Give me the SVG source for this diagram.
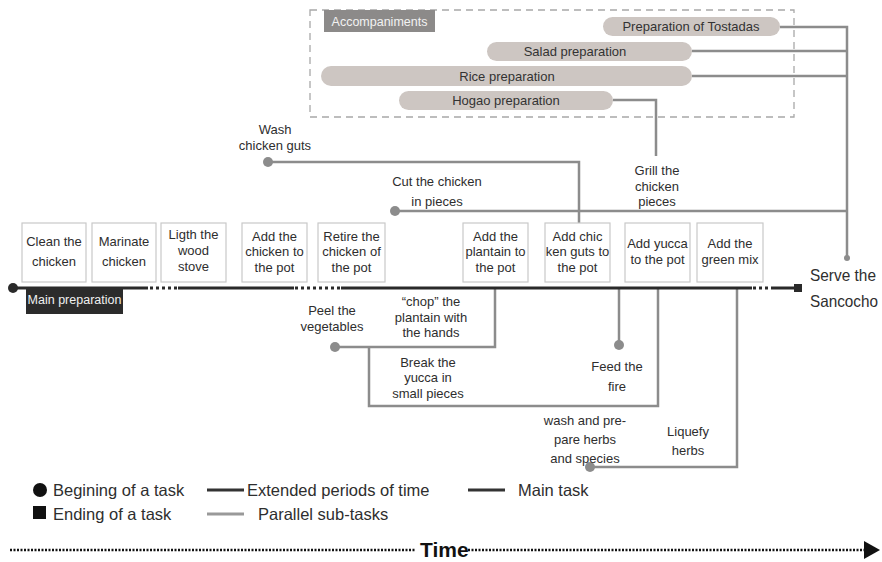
<svg xmlns="http://www.w3.org/2000/svg" width="882" height="562" viewBox="0 0 882 562">
<style>
text{font-family:"Liberation Sans Narrow","Liberation Sans",Arial,sans-serif;fill:#2e2e2e}
.bx{fill:#fff;stroke:#c9c9c9;stroke-width:1.2}
.bt{font-size:13px;text-anchor:middle}
.bar{fill:#cdc6c2}
.brt{font-size:13px;text-anchor:middle;fill:#333}
.sub{fill:none;stroke:#8c8c8c;stroke-width:2.5}
.lbl{font-size:13px;text-anchor:middle}
.dot{fill:#8c8c8c}
.main{fill:none;stroke:#2a2a2a;stroke-width:3}
.dots{fill:none;stroke:#2a2a2a;stroke-width:3;stroke-dasharray:3 3}
.leg{font-size:16.5px}
</style>
<rect width="882" height="562" fill="#fff"/>
<g id="accompaniments">
<rect x="310" y="10" width="484" height="107" fill="none" stroke="#a8a8a8" stroke-width="1.3" stroke-dasharray="7 5"/>
<rect x="324" y="10" width="111" height="22" fill="#8c8a89"/>
<text x="379.5" y="25.5" font-size="12.5" text-anchor="middle" style="fill:#f2f2f2">Accompaniments</text>
</g>
<g id="tostadas"><rect class="bar" x="603" y="17" width="177" height="19" rx="9.5"/><text class="brt" x="691" y="31">Preparation of Tostadas</text></g>
<g id="salad"><rect class="bar" x="487" y="42" width="205" height="19" rx="9.5"/><text class="brt" x="575" y="56">Salad preparation</text></g>
<g id="rice"><rect class="bar" x="321" y="66" width="371" height="20" rx="10"/><text class="brt" x="507" y="80.5">Rice preparation</text></g>
<g id="hogao"><rect class="bar" x="399" y="91" width="214" height="19" rx="9.5"/><text class="brt" x="506" y="105">Hogao preparation</text></g>

<g id="connectors">
<path class="sub" d="M780 27H847V258M692 51H847M692 76H847"/>
<circle class="dot" cx="847" cy="258" r="3"/>
<path class="sub" d="M613 100H656V156"/>
<path class="sub" d="M268 162H579V225"/>
<circle class="dot" cx="268" cy="162" r="5"/>
<path class="sub" d="M395 211H847"/>
<circle class="dot" cx="395" cy="211" r="5"/>
<path class="sub" d="M335 347H495V289"/>
<path class="sub" d="M369 347V406H658V289"/>
<circle class="dot" cx="335" cy="347" r="5"/>
<path class="sub" d="M619 289V345"/>
<circle class="dot" cx="619" cy="345" r="5"/>
<path class="sub" d="M590 467H737V289"/>
<circle class="dot" cx="590" cy="467" r="5"/>
</g>

<g id="main-line">
<path class="main" d="M13 288H148M178 288H294M341 288H752M772 288H796"/>
<path class="dots" d="M150 288H178M295 288H341M753 288H772"/>
<circle cx="13" cy="288" r="5" fill="#2a2a2a"/>
<rect x="794" y="284" width="8" height="8" fill="#2a2a2a"/>
<rect x="26" y="288" width="97" height="26" fill="#2b2b2b"/>
<text x="74.5" y="304" font-size="12.5" text-anchor="middle" style="fill:#f0f0f0">Main preparation</text>
</g>

<g id="clean"><rect class="bx" x="22" y="223" width="64" height="59"/><text class="bt" x="54" y="246">Clean the</text><text class="bt" x="54" y="266">chicken</text></g>
<g id="marinate"><rect class="bx" x="92" y="223" width="64" height="59"/><text class="bt" x="124" y="246">Marinate</text><text class="bt" x="124" y="266">chicken</text></g>
<g id="stove"><rect class="bx" x="161" y="223" width="65" height="59"/><text class="bt" x="193.5" y="239">Ligth the</text><text class="bt" x="193.5" y="255">wood</text><text class="bt" x="193.5" y="271">stove</text></g>
<g id="add-chicken"><rect class="bx" x="242" y="223" width="65" height="59"/><text class="bt" x="274.5" y="241">Add the</text><text class="bt" x="274.5" y="256">chicken to</text><text class="bt" x="274.5" y="272">the pot</text></g>
<g id="retire"><rect class="bx" x="318" y="223" width="67" height="59"/><text class="bt" x="351.5" y="241">Retire the</text><text class="bt" x="351.5" y="256">chicken of</text><text class="bt" x="351.5" y="272">the pot</text></g>
<g id="plantain"><rect class="bx" x="463" y="223" width="65" height="59"/><text class="bt" x="495.5" y="241">Add the</text><text class="bt" x="495.5" y="256">plantain to</text><text class="bt" x="495.5" y="272">the pot</text></g>
<g id="guts"><rect class="bx" x="545" y="223" width="65" height="59"/><text class="bt" x="577.5" y="241">Add chic</text><text class="bt" x="577.5" y="256">ken guts to</text><text class="bt" x="577.5" y="272">the pot</text></g>
<g id="yucca"><rect class="bx" x="625" y="223" width="65" height="59"/><text class="bt" x="657.5" y="248">Add yucca</text><text class="bt" x="657.5" y="264">to the pot</text></g>
<g id="green"><rect class="bx" x="697" y="223" width="66" height="59"/><text class="bt" x="730" y="248">Add the</text><text class="bt" x="730" y="264">green mix</text></g>

<g id="serve"><text x="810" y="281" font-size="16.5" textLength="66" lengthAdjust="spacingAndGlyphs">Serve the</text><text x="810" y="307" font-size="16.5" textLength="68" lengthAdjust="spacingAndGlyphs">Sancocho</text></g>

<g id="sub-labels">
<text class="lbl" x="275" y="134">Wash</text><text class="lbl" x="275" y="150">chicken guts</text>
<text class="lbl" x="437" y="186">Cut the chicken</text><text class="lbl" x="437" y="206">in pieces</text>
<text class="lbl" x="657" y="175">Grill the</text><text class="lbl" x="657" y="191">chicken</text><text class="lbl" x="657" y="206">pieces</text>
<text class="lbl" x="332" y="315">Peel the</text><text class="lbl" x="332" y="331">vegetables</text>
<text class="lbl" x="431" y="306">“chop” the</text><text class="lbl" x="431" y="322">plantain with</text><text class="lbl" x="431" y="337">the hands</text>
<text class="lbl" x="428" y="367">Break the</text><text class="lbl" x="428" y="382">yucca in</text><text class="lbl" x="428" y="398">small pieces</text>
<text class="lbl" x="617" y="371">Feed the</text><text class="lbl" x="617" y="391">fire</text>
<text class="lbl" x="585" y="425">wash and pre-</text><text class="lbl" x="585" y="444">pare herbs</text><text class="lbl" x="585" y="463">and species</text>
<text class="lbl" x="688" y="436">Liquefy</text><text class="lbl" x="688" y="455">herbs</text>
</g>

<g id="legend">
<circle cx="40" cy="490" r="7" fill="#111"/>
<text class="leg" x="53" y="496">Begining of a task</text>
<rect x="33" y="506" width="13" height="13" fill="#111"/>
<text class="leg" x="53" y="520">Ending of a task</text>
<line x1="207" y1="490" x2="244" y2="490" stroke="#333" stroke-width="3"/>
<text class="leg" x="247" y="496">Extended periods of time</text>
<line x1="207" y1="514" x2="244" y2="514" stroke="#999" stroke-width="3"/>
<text class="leg" x="258" y="520">Parallel sub-tasks</text>
<line x1="468" y1="490" x2="505" y2="490" stroke="#333" stroke-width="3"/>
<text class="leg" x="518" y="496">Main task</text>
</g>

<g id="time">
<path d="M10 550H416M468 550H866" stroke="#111" stroke-width="2.5" stroke-dasharray="2 1.5" fill="none"/>
<polygon points="864,541 880,550 864,559" fill="#111"/>
<text x="420" y="557" font-size="21" font-weight="bold" style="fill:#111">Time</text>
</g>
</svg>
